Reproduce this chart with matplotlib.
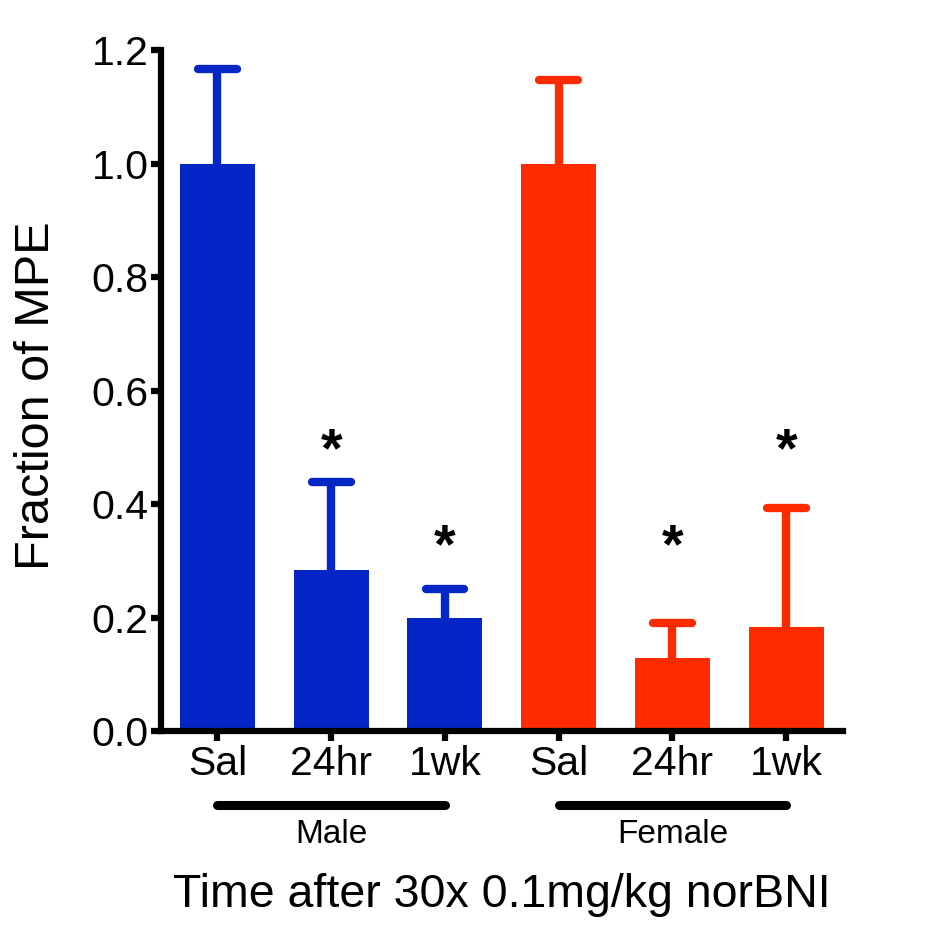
import matplotlib
matplotlib.use('Agg')
import matplotlib.pyplot as plt
import matplotlib.transforms as mtransforms
import numpy as np

# ---- data ----
categories = ['Sal', '24hr', '1wk', 'Sal', '24hr', '1wk']
groups = ['Male', 'Female']
group_members = [[0, 1, 2], [3, 4, 5]]
means = [1.0, 0.283, 0.200, 1.0, 0.129, 0.183]
sem = [0.166, 0.155, 0.050, 0.148, 0.062, 0.210]
star_y = [None, 0.467, 0.297, None, 0.297, 0.467]
group_colors = ['#0426C6', '#FF2B00']
yticks = [0.0, 0.2, 0.4, 0.6, 0.8, 1.0, 1.2]
ytick_labels = ['0.0', '0.2', '0.4', '0.6', '0.8', '1.0', '1.2']
ylabel = 'Fraction of MPE'
xlabel = 'Time after 30x 0.1mg/kg norBNI'

plt.rcParams['font.family'] = ['Liberation Sans', 'DejaVu Sans']

fig = plt.figure(figsize=(9.51, 9.34), dpi=100)
ax = fig.add_axes([0.1688, 0.2173, 0.7177, 0.7291])

x = np.arange(len(categories))
m = np.array(means)
e = np.array(sem)
colors = []
for gi, mem in enumerate(group_members):
    for _ in mem:
        colors.append(group_colors[gi])

ax.bar(x, m, width=0.66, color=colors, zorder=2)
ax.vlines(x, m, m + e, colors=colors, lw=6, zorder=1)
ax.hlines(m + e, x - 0.17, x + 0.17, colors=colors, lw=6, capstyle='round', zorder=1)

for xi, sy in zip(x, star_y):
    if sy is not None:
        ax.text(xi, sy, '*', ha='center', va='baseline', fontsize=40, fontweight='bold', color='black')

ax.set_xlim(-0.5, 5.5)
ax.set_ylim(0, 1.2)
ax.set_xticks(x)
ax.set_xticklabels(categories)
ax.set_yticks(yticks)
ax.set_yticklabels(ytick_labels)
for s in ['top', 'right']:
    ax.spines[s].set_visible(False)
for s in ['left', 'bottom']:
    ax.spines[s].set_linewidth(4.5)
    ax.spines[s].set_capstyle('projecting')
ax.tick_params(axis='both', length=7, width=4.5, labelsize=29.5, direction='out')
ax.tick_params(axis='y', pad=1.5)
ax.tick_params(axis='x', pad=3)

trans = mtransforms.blended_transform_factory(ax.transData, ax.transAxes)
for gname, mem in zip(groups, group_members):
    ax.plot([x[mem[0]], x[mem[-1]]], [-0.109, -0.109], transform=trans, clip_on=False,
            lw=6.5, color='black', solid_capstyle='round')
    ax.text(np.mean([x[i] for i in mem]), -0.152, gname, transform=trans,
            ha='center', va='center', fontsize=24)

fig.text(0.528, 1 - 895 / 934, xlabel, ha='center', va='center', fontsize=33.5)
fig.text(37 / 951, 1 - 396 / 934, ylabel, ha='center', va='center', rotation=90, fontsize=35)

fig.savefig('out.png', dpi=100)
